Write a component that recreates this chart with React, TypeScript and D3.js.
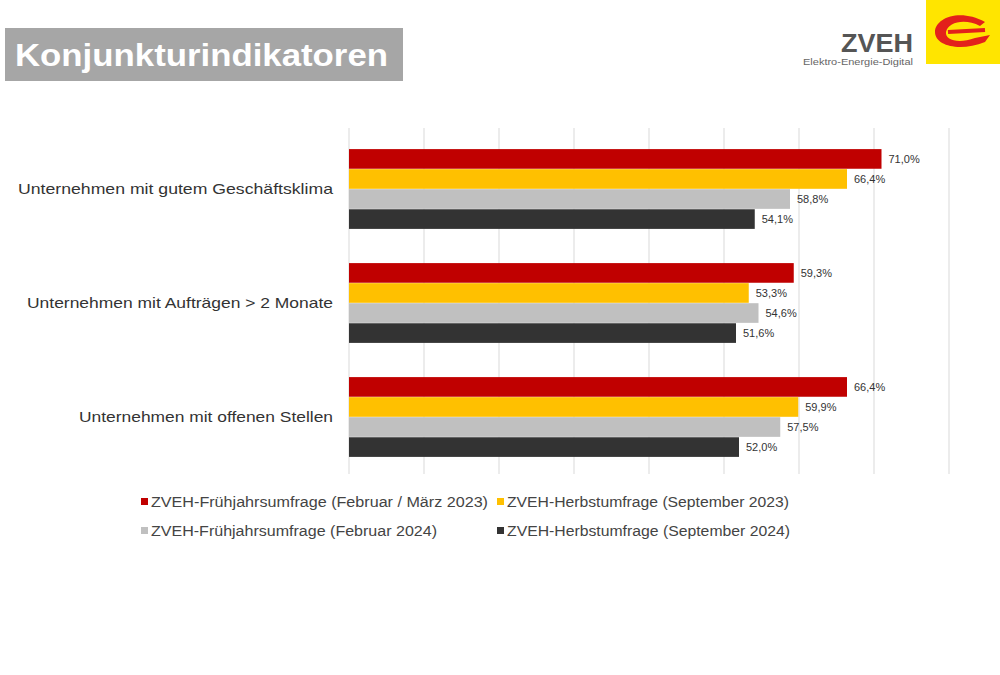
import * as d3 from "d3";

const categories = [
  "Unternehmen mit gutem Geschäftsklima",
  "Unternehmen mit Aufträgen > 2 Monate",
  "Unternehmen mit offenen Stellen",
];
const categoryWidths = [315, 306, 254];
const seriesNames = [
  "ZVEH-Frühjahrsumfrage (Februar / März 2023)",
  "ZVEH-Herbstumfrage (September 2023)",
  "ZVEH-Frühjahrsumfrage (Februar 2024)",
  "ZVEH-Herbstumfrage (September 2024)",
];
const legendWidths = [337, 282, 286, 283];
const seriesColors = ["#c00000", "#ffc000", "#c0c0c0", "#333333"];
const values = [
  [71.0, 59.3, 66.4],
  [66.4, 53.3, 59.9],
  [58.8, 54.6, 57.5],
  [54.1, 51.6, 52.0],
];
const ticks = [0, 10, 20, 30, 40, 50, 60, 70, 80];

export default function App() {
  const x = d3.scaleLinear().domain([0, 80]).range([349, 949]);
  const y0 = d3.scaleBand<string>().domain(categories).range([132, 474]).paddingInner(0.3).paddingOuter(0.15);
  const y1 = d3.scaleBand<number>().domain([0, 1, 2, 3]).range([0, y0.bandwidth()]).paddingInner(0.02);
  const fmt = (v: number) => v.toFixed(1).replace(".", ",") + "%";
  const font = "Liberation Sans, Arial, sans-serif";
  const legendPos = [
    [141, 502],
    [497, 502],
    [141, 531],
    [497, 531],
  ];
  return (
    <svg width={1000} height={675} style={{ position: "absolute", left: 0, top: 0 }} fontFamily={font}>
      <rect width={1000} height={675} fill="#fff" />
      <rect x={5} y={28} width={398} height={53} fill="#a6a6a6" />
      <text x={15} y={66} fill="#fff" fontSize={32} fontWeight="bold" textLength={373} lengthAdjust="spacingAndGlyphs">Konjunkturindikatoren</text>
      {/* logo */}
      <text x={913} y={52} fontSize={25} fontWeight="bold" fill="#555" textAnchor="end" textLength={72} lengthAdjust="spacingAndGlyphs">ZVEH</text>
      <text x={913} y={65} fontSize={9} fill="#666" textAnchor="end" textLength={110} lengthAdjust="spacingAndGlyphs">Elektro-Energie-Digital</text>
      <rect x={926} y={0} width={74} height={64} fill="#ffe500" />
      <path d="M985,22 C960,8 935,18 935,32 C935,46 960,52 985,42 L990,35 L975,38 C958,44 945,40 946,32 C948,22 965,18 980,26 Z" fill="#e3211b" />
      <path d="M948,32 L985,30" stroke="#e3211b" strokeWidth={4} />
      {ticks.map((t) => (
        <line key={t} x1={x(t)} x2={x(t)} y1={128} y2={474} stroke="#d9d9d9" />
      ))}
      {categories.map((c, ci) => (
        <g key={c}>
          <text x={333} y={y0(c)! + y0.bandwidth() / 2 + 5} textAnchor="end" fontSize={15} fill="#333" textLength={categoryWidths[ci]} lengthAdjust="spacingAndGlyphs">{c}</text>
          {values.map((s, si) => {
            const yy = y0(c)! + y1(si)!;
            return (
              <g key={si}>
                <rect x={x(0)} y={yy} width={x(s[ci]) - x(0)} height={y1.bandwidth()} fill={seriesColors[si]} />
                <text x={x(s[ci]) + 7} y={yy + y1.bandwidth() / 2 + 4} fontSize={11} fill="#333">{fmt(s[ci])}</text>
              </g>
            );
          })}
        </g>
      ))}
      {seriesNames.map((n, i) => (
        <g key={n}>
          <rect x={legendPos[i][0]} y={legendPos[i][1] - 4} width={7} height={7} fill={seriesColors[i]} />
          <text x={legendPos[i][0] + 10} y={legendPos[i][1] + 5} fontSize={14} fill="#444" textLength={legendWidths[i]} lengthAdjust="spacingAndGlyphs">{n}</text>
        </g>
      ))}
    </svg>
  );
}
